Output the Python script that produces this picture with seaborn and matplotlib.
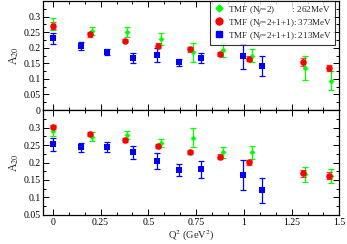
import matplotlib
matplotlib.use("Agg")
import matplotlib.pyplot as plt
import seaborn as sns
import numpy as np
import pandas as pd
from matplotlib.ticker import MultipleLocator, AutoMinorLocator
from matplotlib.lines import Line2D

# ---------------- data ----------------
q2_green = [0.003, 0.204, 0.390, 0.567, 0.733, 0.890, 1.042, 1.321, 1.457]
q2_red   = [0.003, 0.195, 0.379, 0.553, 0.719, 0.876, 1.028, 1.312, 1.448]
q2_blue  = [0.000, 0.147, 0.286, 0.422, 0.544, 0.660, 0.778, 0.993, 1.097]

# top panel
top_green = [0.276, 0.255, 0.252, 0.228, 0.185, 0.193, 0.174, 0.134, 0.094]
top_green_err = [0.020, 0.013, 0.016, 0.018, 0.030, 0.023, 0.021, 0.038, 0.030]
top_red = [0.271, 0.243, 0.223, 0.207, 0.195, 0.179, 0.164, 0.153, 0.134]
top_red_err = [0.010, 0.007, 0.006, 0.007, 0.008, 0.007, 0.008, 0.013, 0.010]
top_blue = [0.230, 0.206, 0.187, 0.166, 0.177, 0.153, 0.166, 0.173, 0.142]
top_blue_err = [0.018, 0.013, 0.010, 0.016, 0.023, 0.012, 0.016, 0.040, 0.032]

# bottom panel
bot_green = [0.291, 0.274, 0.279, 0.255, 0.271, 0.229, 0.229, 0.166, 0.162]
bot_green_err = [0.015, 0.012, 0.011, 0.011, 0.027, 0.015, 0.018, 0.022, 0.020]
bot_red = [0.302, 0.281, 0.264, 0.248, 0.231, 0.217, 0.201, 0.169, 0.162]
bot_red_err = [0.006, 0.006, 0.005, 0.006, 0.006, 0.006, 0.007, 0.010, 0.010]
bot_blue = [0.252, 0.243, 0.245, 0.229, 0.204, 0.179, 0.180, 0.164, 0.121]
bot_blue_err = [0.019, 0.014, 0.015, 0.019, 0.024, 0.018, 0.025, 0.043, 0.036]

labels = ["TMF (N$_f$=2)        : 262MeV",
          "TMF (N$_f$=2+1+1): 373MeV",
          "TMF (N$_f$=2+1+1): 213MeV"]
x_ticks = [0, 0.25, 0.5, 0.75, 1, 1.25, 1.5]
x_ticklabels = ["0", "0.25", "0.5", "0.75", "1", "1.25", "1.5"]

# ---------------- style ----------------
sns.set_style("ticks")
plt.rcParams['font.family'] = ['Liberation Serif', 'DejaVu Serif']
plt.rcParams['mathtext.fontset'] = 'stix'

fig = plt.figure(figsize=(3.47, 2.44), dpi=100)
ax1 = fig.add_axes([0.1248, 0.549, 0.8532, 0.447])
ax2 = fig.add_axes([0.1248, 0.119, 0.8532, 0.430], sharex=ax1)

colors = {"g": "#00ff00", "r": "#ff0000", "b": "#0000ff"}
markers = {"g": "D", "r": "o", "b": "s"}
msize = {"g": 9, "r": 22, "b": 18}

def draw(ax, series):
    for key, xs, ys, es in series:
        ax.errorbar(xs, ys, yerr=es, fmt="none", ecolor=colors[key],
                    elinewidth=0.9, capsize=2.5, capthick=0.9, zorder=2,
                    alpha=0.75 if key == "r" else 1.0)
        df = pd.DataFrame({"x": xs, "y": ys})
        sns.scatterplot(data=df, x="x", y="y", ax=ax, color=colors[key],
                        marker=markers[key], s=msize[key], linewidth=0,
                        zorder=3, legend=False)

draw(ax1, [("g", q2_green, top_green, top_green_err),
           ("r", q2_red, top_red, top_red_err),
           ("b", q2_blue, top_blue, top_blue_err)])
draw(ax2, [("g", q2_green, bot_green, bot_green_err),
           ("r", q2_red, bot_red, bot_red_err),
           ("b", q2_blue, bot_blue, bot_blue_err)])

for ax in (ax1, ax2):
    ax.set_xlim(-0.05, 1.5)
    ax.set_xticks(x_ticks)
    ax.xaxis.set_minor_locator(AutoMinorLocator(3))
    ax.yaxis.set_major_locator(MultipleLocator(0.05))
    ax.yaxis.set_minor_locator(AutoMinorLocator(2))
    ax.tick_params(which="both", direction="in", top=True, right=True,
                   labelsize=7, width=0.7, colors="black", pad=2)
    ax.tick_params(which="major", length=4)
    ax.tick_params(which="minor", length=2)
    for s in ax.spines.values():
        s.set_linewidth(0.9)
        s.set_color("black")
    ax.set_xlabel("")

ax1.set_ylim(0, 0.35)
ax1.set_yticks([0, 0.05, 0.1, 0.15, 0.2, 0.25, 0.3])
ax1.set_yticklabels(["0", "0.05", "0.1", "0.15", "0.2", "0.25", "0.3"])
ax1.tick_params(labelbottom=False)
ax2.set_ylim(0.05, 0.35)
ax2.set_yticks([0.05, 0.1, 0.15, 0.2, 0.25, 0.3])
ax2.set_yticklabels(["0.05", "0.1", "0.15", "0.2", "0.25", "0.3"])
ax2.set_xticklabels(x_ticklabels)

ax1.set_ylabel("A$_{20}$", fontsize=8.5, labelpad=2)
ax2.set_ylabel("A$_{20}$", fontsize=8.5, labelpad=2)
ax2.set_xlabel("Q$^2$ (GeV$^2$)", fontsize=7.5, labelpad=1)

handles = [Line2D([], [], linestyle="none", marker=markers[k], color=colors[k],
                  markersize=ms) for k, ms in (("g", 3.5), ("r", 5), ("b", 4.5))]
leg = ax1.legend(handles, labels, loc="upper right", fontsize=6.6,
                 frameon=True, fancybox=False, edgecolor="black",
                 handlelength=1.2, handletextpad=0.4, borderpad=0.3,
                 labelspacing=0.15, borderaxespad=0.0,
                 bbox_to_anchor=(0.985, 1.0))
leg.get_frame().set_linewidth(0.8)

fig.savefig("out.png", dpi=100)
